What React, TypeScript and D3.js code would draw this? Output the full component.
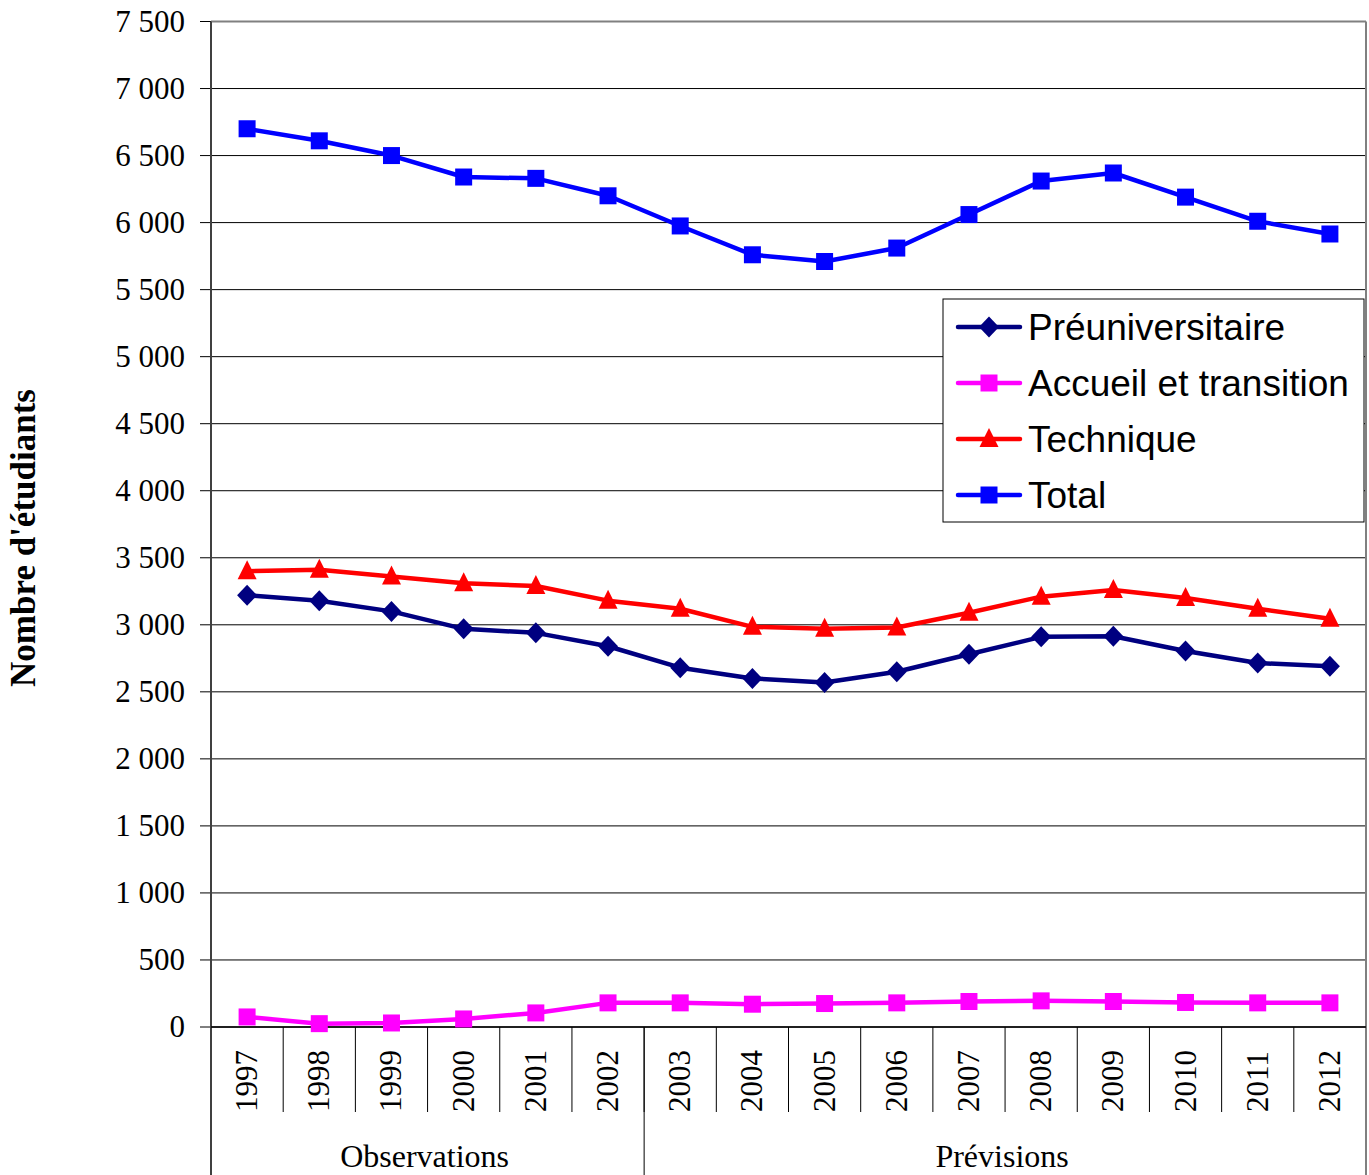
import React from 'react';
import * as d3 from 'd3';

const years = ['1997','1998','1999','2000','2001','2002','2003','2004','2005','2006','2007','2008','2009','2010','2011','2012'];
const preuniversitaire = [3220,3180,3100,2970,2940,2840,2680,2600,2570,2650,2780,2910,2915,2805,2715,2690];
const accueil = [75,25,30,60,105,180,180,170,175,180,190,195,190,183,180,180];
const technique = [3400,3410,3360,3310,3290,3180,3120,2985,2970,2980,3090,3210,3260,3200,3120,3045];
const total = [6700,6610,6500,6340,6330,6200,5975,5760,5710,5810,6060,6310,6370,6190,6010,5915];
const yTicks = [0,500,1000,1500,2000,2500,3000,3500,4000,4500,5000,5500,6000,6500,7000,7500];
const groupLabels = ['Observations','Prévisions'];
const groupStarts = ['1997','2003'];
const groupEnds = ['2002','2012'];

const series = [
  { name: 'Préuniversitaire', values: preuniversitaire, color: '#000080', marker: 'diamond' },
  { name: 'Accueil et transition', values: accueil, color: '#FF00FF', marker: 'square' },
  { name: 'Technique', values: technique, color: '#FF0000', marker: 'triangle' },
  { name: 'Total', values: total, color: '#0000FF', marker: 'square' },
];

const W = 1369, H = 1175;
const L = 211, R = 1366, T = 21.5, B = 1027;
const serif = '"Liberation Serif", "Times New Roman", serif';
const sans = '"Liberation Sans", Arial, sans-serif';

function markerPath(type: string) {
  if (type === 'diamond') return 'M0,-10.5L10,0L0,10.5L-10,0Z';
  if (type === 'triangle') return 'M0,-11L9.5,8L-9.5,8Z';
  return 'M-8.5,-8.5H8.5V8.5H-8.5Z';
}

function fmt(v: number) {
  const s = String(v);
  if (s.length > 3) return s.slice(0, s.length - 3) + ' ' + s.slice(s.length - 3);
  return s;
}

export default function App() {
  const x = d3.scaleBand<string>().domain(years).range([L, R]).paddingInner(0).paddingOuter(0);
  const y = d3.scaleLinear().domain([0, 7500]).range([B, T]);
  const cx = (yr: string) => (x(yr) as number) + x.bandwidth() / 2;
  const line = d3.line<number>().x((_, i) => cx(years[i])).y(v => y(v));

  const legendX = 943, legendY = 299, legendW = 421, legendH = 223;
  const rowY = (i: number) => 327 + i * 56;

  return (
    <svg width={W} height={H} style={{ position: 'absolute', left: 0, top: 0, background: '#fff' }}>
      <rect x={0} y={0} width={W} height={H} fill="#fff" />
      {yTicks.map(t => (
        <line key={'g' + t} x1={L} x2={R} y1={y(t)} y2={y(t)} stroke={t === 7500 ? '#808080' : '#000'} strokeWidth={t === 7500 ? 2 : 1} />
      ))}
      <line x1={R} x2={R} y1={T} y2={H} stroke="#808080" strokeWidth={2} />
      {yTicks.map(t => (
        <g key={'t' + t}>
          <line x1={200} x2={L} y1={y(t)} y2={y(t)} stroke="#000" strokeWidth={1} />
          <text x={185} y={y(t)} dy="0.33em" textAnchor="end" fontFamily={serif} fontSize={31} fill="#000">{fmt(t)}</text>
        </g>
      ))}
      <line x1={L} x2={L} y1={T} y2={H} stroke="#404040" strokeWidth={2} />
      <line x1={L} x2={R} y1={B} y2={B} stroke="#000" strokeWidth={1.5} />
      {years.slice(1).map(yr => (
        <line key={'s' + yr} x1={x(yr) as number} x2={x(yr) as number} y1={B} y2={1112} stroke="#000" strokeWidth={1} />
      ))}
      {groupStarts.slice(1).map(yr => (
        <line key={'gs' + yr} x1={x(yr) as number} x2={x(yr) as number} y1={B} y2={H} stroke="#000" strokeWidth={1} />
      ))}
      {years.map(yr => (
        <text key={'y' + yr} transform={`translate(${cx(yr) + 10},1112) rotate(-90)`} textAnchor="start" fontFamily={serif} fontSize={31} fill="#000">{yr}</text>
      ))}
      {groupLabels.map((g, i) => {
        const x0 = x(groupStarts[i]) as number;
        const x1 = (x(groupEnds[i]) as number) + x.bandwidth();
        return <text key={g} x={(x0 + x1) / 2 - 3} y={1167} textAnchor="middle" fontFamily={serif} fontSize={32} fill="#000">{g}</text>;
      })}
      <text transform="translate(35,538) rotate(-90)" textAnchor="middle" fontFamily={serif} fontWeight="bold" fontSize={35} fill="#000">Nombre d'étudiants</text>
      {series.map(s => (
        <g key={s.name}>
          <path d={line(s.values) || ''} fill="none" stroke={s.color} strokeWidth={4.5} strokeLinejoin="round" />
          {s.values.map((v, i) => (
            <path key={i} d={markerPath(s.marker)} transform={`translate(${cx(years[i])},${y(v)})`} fill={s.color} />
          ))}
        </g>
      ))}
      <rect x={legendX} y={legendY} width={legendW} height={legendH} fill="#fff" stroke="#000" strokeWidth={1} />
      {series.map((s, i) => (
        <g key={'l' + s.name}>
          <line x1={958} x2={1020} y1={rowY(i)} y2={rowY(i)} stroke={s.color} strokeWidth={4.5} strokeLinecap="round" />
          <path d={markerPath(s.marker)} transform={`translate(989,${rowY(i)})`} fill={s.color} />
          <text x={1028} y={rowY(i)} dy="0.36em" fontFamily={sans} fontSize={37} fill="#000">{s.name}</text>
        </g>
      ))}
    </svg>
  );
}
